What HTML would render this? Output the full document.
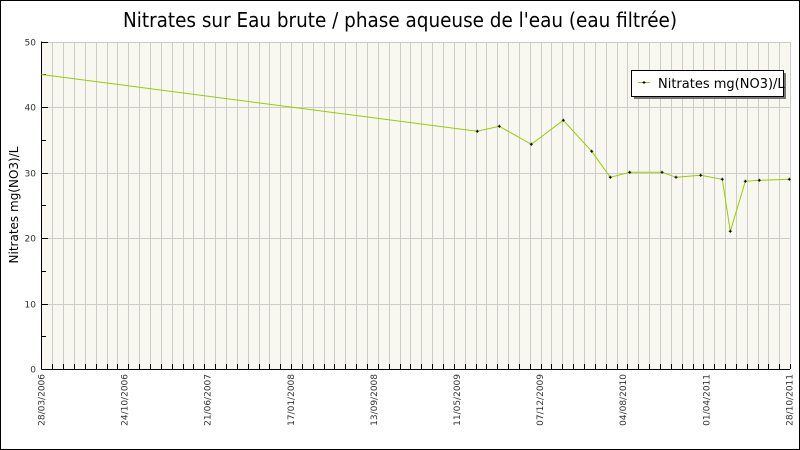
<!DOCTYPE html>
<html><head><meta charset="utf-8"><style>
html,body{margin:0;padding:0;background:#fff;}
svg{display:block;}
text{font-family:"DejaVu Sans","Liberation Sans",sans-serif;}
</style></head><body>
<svg id="c" width="800" height="450" xmlns="http://www.w3.org/2000/svg">
<rect x="0.5" y="0.5" width="799" height="449" fill="#fff" stroke="#000"/>
<text x="400" y="27" text-anchor="middle" font-size="20" textLength="554" lengthAdjust="spacingAndGlyphs" fill="#000">Nitrates sur Eau brute / phase aqueuse de l'eau (eau filtrée)</text>
<rect x="41.5" y="41.5" width="749" height="327.5" fill="#f8f8f0"/>
<g id="grid" stroke="#cccccc" stroke-width="1"></g>
<g id="axis" stroke="#000" stroke-width="1"></g>
<g id="lbl" font-size="9" fill="#333"></g>
<text transform="translate(18,205) rotate(-90)" text-anchor="middle" font-size="12" fill="#000">Nitrates mg(NO3)/L</text>
<polyline id="ln" fill="none" stroke="#99cc00" stroke-width="1"/>
<g id="pts" stroke="#000" stroke-width="1"></g>
<rect x="634" y="73" width="152" height="26" fill="#777"/>
<rect x="631.5" y="70.5" width="152" height="26" fill="#fff" stroke="#000"/>
<line x1="638" y1="82.5" x2="650" y2="82.5" stroke="#99cc00"/>
<path d="M642.5 82.5h3M644 81v3" stroke="#000"/>
<text x="658" y="88" font-size="13" fill="#000">Nitrates mg(NO3)/L</text>
</svg>
<script>
var NS="http://www.w3.org/2000/svg";
function el(p,t,a,txt){var e=document.createElementNS(NS,t);for(var k in a)e.setAttribute(k,a[k]);if(txt!=null)e.textContent=txt;document.getElementById(p).appendChild(e);return e;}
var x0=41.5,dx=10.85,y0=369,sc=6.55;
for(var k=1;k<=69;k++){var x=Math.round(x0+k*dx)+0.5;el("grid","line",{x1:x,y1:42,x2:x,y2:369});el("axis","line",{x1:x,y1:369,x2:x,y2:364});}
for(var v=10;v<=50;v+=10){var y=Math.round(y0-v*sc)+0.5;el("grid","line",{x1:42,y1:y,x2:790,y2:y});}
el("axis","line",{x1:41.5,y1:41.5,x2:41.5,y2:369.5});
el("axis","line",{x1:41.5,y1:369.5,x2:790,y2:369.5});
for(var v=0;v<=50;v+=5){var y=Math.round(y0-v*sc)+0.5;el("axis","line",{x1:41.5,y1:y,x2:v%10?46:48,y2:y});
 if(v%10==0)el("lbl","text",{x:36,y:y+3,"text-anchor":"end"},String(v));}
var d=["28/03/2006","24/10/2006","21/06/2007","17/01/2008","13/09/2008","11/05/2009","07/12/2009","04/08/2010","01/04/2011","28/10/2011"];
for(var i=0;i<d.length;i++){var x=41.5+i*83.1+3;el("lbl","text",{transform:"translate("+x+",374) rotate(-90)","text-anchor":"end"},d[i]);}
var P=[[41.5,74.5],[477.3,131.3],[499.3,126.3],[531.3,144.3],[563.3,120.3],[591.7,151.3],[610.3,177.3],[629.7,172.3],[662,172.3],[676,177.3],[700.7,175.3],[722.3,179.3],[730.3,231.3],[745.3,181.3],[759.3,180.3],[789.3,179.3]];
document.getElementById("ln").setAttribute("points",P.map(function(p){return p.join(",")}).join(" "));
for(var i=1;i<P.length;i++){var x=P[i][0],y=P[i][1];el("pts","path",{d:"M"+(x-1.5)+" "+y+"h3M"+x+" "+(y-1.5)+"v3"});}
</script>
</body></html>
